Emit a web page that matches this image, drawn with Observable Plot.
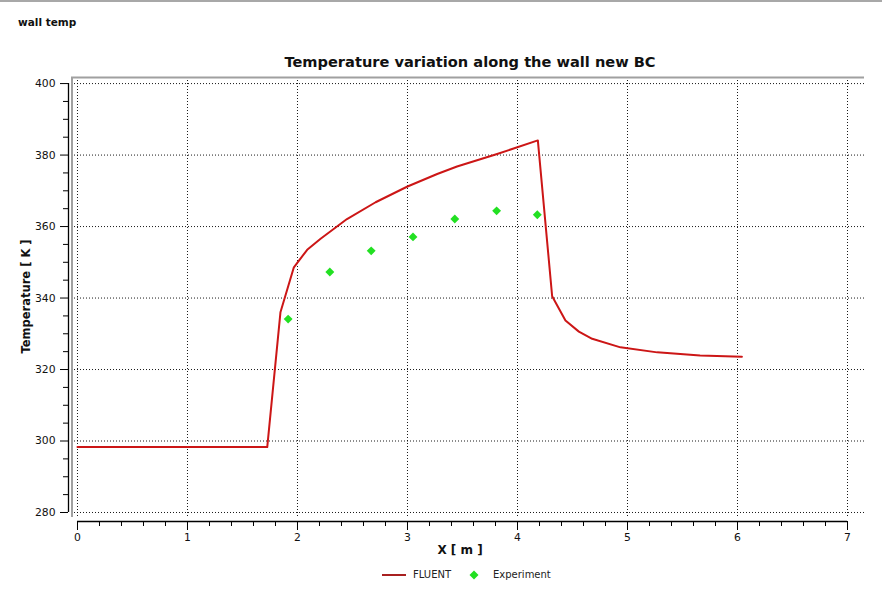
<!DOCTYPE html>
<html><head><meta charset="utf-8">
<script src="https://cdn.jsdelivr.net/npm/d3@7"></script>
<script src="https://cdn.jsdelivr.net/npm/@observablehq/plot@0.6"></script>
<style>
body{margin:0;background:#fff;font-family:"DejaVu Sans",Verdana,sans-serif;}
#wrap{position:relative;width:882px;height:604px;overflow:hidden;background:#fff;}
#topline{position:absolute;left:0;top:0;width:882px;height:2px;background:#a8a8a8;}
#name{position:absolute;left:18px;top:16px;font-size:10.5px;font-weight:bold;color:#111;}
#title{position:absolute;left:0;top:53px;width:940px;text-align:center;font-size:14.6px;font-weight:bold;color:#111;}
#chart{position:absolute;left:0;top:0;}
#legend{position:absolute;left:0;top:567px;width:882px;height:18px;font-size:10px;color:#222;}
#legend .it{position:absolute;top:0;line-height:16px;}
</style>
</head><body>
<div id="wrap">
  <div id="topline"></div>
  <div id="name">wall temp</div>
  <div id="title">Temperature variation along the wall new BC</div>
  <div id="chart"></div>
  <div id="legend">
    <svg class="it" style="left:382px;top:0" width="24" height="16"><line x1="0" x2="24" y1="8" y2="8" stroke="#a82020" stroke-width="2"/></svg>
    <span class="it" style="left:413px">FLUENT</span>
    <svg class="it" style="left:469px;top:3px" width="10" height="10"><path d="M5,0.5L9.5,5L5,9.5L0.5,5Z" fill="#22e022"/></svg>
    <span class="it" style="left:493px">Experiment</span>
  </div>
</div>
<script>
// FLUENT simulation (x in m, temperature in K)
const xFluent = [0, 1.725, 1.845, 1.967, 2.088, 2.21, 2.45, 2.71, 3.0, 3.27, 3.45, 3.815, 4.185, 4.315, 4.436, 4.558, 4.679, 4.936, 5.27, 5.66, 6.04];
const tFluent = [298.3, 298.3, 336.0, 348.6, 353.5, 356.6, 362.1, 366.8, 371.2, 374.7, 376.8, 380.3, 384.1, 340.5, 333.7, 330.6, 328.6, 326.2, 324.8, 323.9, 323.6];
// Experiment
const xExp = [1.915, 2.294, 2.67, 3.05, 3.43, 3.81, 4.18];
const tExp = [334.1, 347.3, 353.2, 357.1, 362.1, 364.4, 363.3];
// ticks
const xMajor = [0, 1, 2, 3, 4, 5, 6, 7];
const xMinor = d3.range(0, 36).map(i => i / 5).filter(v => Math.abs(v - Math.round(v)) > 1e-9);
const yMajor = [280, 300, 320, 340, 360, 380, 400];
const yMinor = d3.range(280, 401, 5).filter(v => v % 20 !== 0);

const fluent = xFluent.map((x, i) => ({x, t: tFluent[i]}));
const exp = xExp.map((x, i) => ({x, t: tExp[i]}));

const xDomain = [-0.0545, 7.1545];
const yDomain = [278.6, 401.7];
const grid = {stroke: "#000", strokeOpacity: 0.9, strokeDasharray: "1,2", strokeWidth: 1};

const chart = Plot.plot({
  width: 882, height: 604,
  marginTop: 77, marginRight: 18, marginBottom: 87, marginLeft: 71,
  x: {domain: xDomain},
  y: {domain: yDomain},
  style: {fontFamily: "DejaVu Sans, Verdana, sans-serif", fontSize: "10.8px", color: "#111", background: "transparent", overflow: "visible"},
  marks: [
    Plot.gridX(xMajor, grid),
    Plot.gridY(yMajor, grid),
    Plot.ruleY([yDomain[1]], {x1: xDomain[0], x2: xDomain[1], stroke: "#a0a0a0", strokeWidth: 2}),
    Plot.ruleX([xDomain[0]], {y1: yDomain[0], y2: yDomain[1], stroke: "#a0a0a0", strokeWidth: 2, dx: 0.5}),
    // X axis
    Plot.ruleY([yDomain[0]], {x1: 0, x2: 7, stroke: "#000", strokeWidth: 1.3, dy: 4}),
    Plot.axisX(xMajor, {anchor: "bottom", tickSize: 9, dy: 4, tickPadding: 3, label: null, stroke: "#000", fill: "#111"}),
    Plot.axisX(xMinor, {anchor: "bottom", tickSize: 5, dy: 4, tickFormat: () => "", label: null, stroke: "#000"}),
    // Y axis
    Plot.ruleX([xDomain[0]], {y1: 280, y2: 400, stroke: "#000", strokeWidth: 1.3, dx: -3}),
    Plot.axisY(yMajor, {anchor: "left", tickSize: 8, dx: -3, tickPadding: 5, label: null, stroke: "#000", fill: "#111"}),
    Plot.axisY(yMinor, {anchor: "left", tickSize: 5, dx: -3, tickFormat: () => "", label: null, stroke: "#000"}),
    // data
    Plot.line(fluent, {x: "x", y: "t", stroke: "#cc1616", strokeWidth: 2}),
    Plot.dot(exp, {x: "x", y: "t", symbol: "diamond2", r: 4, fill: "#22e022", stroke: "none"}),
    // axis labels
    Plot.text(["X [ m ]"], {text: d => d, frameAnchor: "bottom", dy: 36, dx: -8, fontWeight: "bold", fontSize: 12, fill: "#111"}),
    Plot.text(["Temperature [ K ]"], {text: d => d, frameAnchor: "left", textAnchor: "middle", rotate: -90, dx: -45, dy: -1, fontWeight: "bold", fontSize: 11.5, fill: "#111"})
  ]
});
document.getElementById("chart").appendChild(chart);
</script>
</body></html>
